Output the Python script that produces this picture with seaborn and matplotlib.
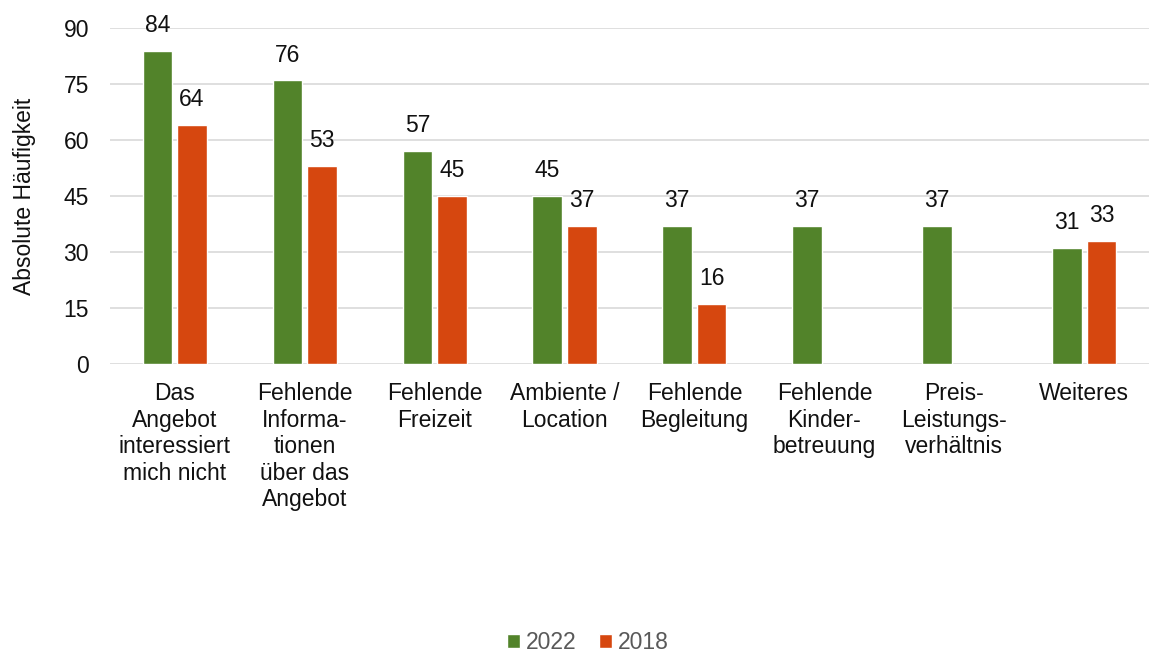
import numpy as np
import pandas as pd
import seaborn as sns
import matplotlib.pyplot as plt

# Daten
kategorien = [
    "Das\nAngebot\ninteressiert\nmich nicht",
    "Fehlende\nInforma-\ntionen\nüber das\nAngebot",
    "Fehlende\nFreizeit",
    "Ambiente /\nLocation",
    "Fehlende\nBegleitung",
    "Fehlende\nKinder-\nbetreuung",
    "Preis-\nLeistungs-\nverhältnis",
    "Weiteres",
]
werte_2022 = [84, 76, 57, 45, 37, 37, 37, 31]
werte_2018 = [64, 53, 45, 37, 16, np.nan, np.nan, 33]
jahre = ["2022", "2018"]
farben = ["#52832A", "#D6470F"]

sns.set_theme(style="white")
plt.rcParams['font.family'] = ['Liberation Sans', 'DejaVu Sans']

FS = 16.5

df = pd.DataFrame({"Kategorie": kategorien, "2022": werte_2022, "2018": werte_2018})
df_long = df.melt(id_vars="Kategorie", value_vars=jahre, var_name="Jahr", value_name="Anzahl")

fig = plt.figure(figsize=(11.55, 6.58), dpi=100)
ax = fig.add_axes([0.095, 0.447, 0.9, 0.51])

sns.barplot(data=df_long, x="Kategorie", y="Anzahl", hue="Jahr", hue_order=jahre,
            palette=farben, width=0.53, gap=0.14, ax=ax, legend=True, saturation=1)

# Werte über den Balken
for cont in ax.containers:
    labels = ["" if np.isnan(v) else f"{v:.0f}" for v in cont.datavalues]
    ax.bar_label(cont, labels=labels, padding=10, fontsize=FS, color="#111111")

ax.set_ylim(0, 90)
ax.set_yticks(range(0, 91, 15))
ax.set_xlim(-0.5, len(kategorien) - 0.5)
ax.yaxis.grid(True, color="#D9D9D9", linewidth=1.2)
ax.set_axisbelow(True)
for s in ax.spines.values():
    s.set_visible(False)
ax.tick_params(axis="both", length=0, labelsize=FS, colors="#111111")
ax.tick_params(axis="y", pad=15)
ax.tick_params(axis="x", pad=13)
for t in ax.get_xticklabels():
    t.set_linespacing(1.2)
ax.set_xlabel("")
ax.set_ylabel("Absolute Häufigkeit", fontsize=FS, color="#111111", labelpad=20)

leg = ax.legend(loc="center", bbox_to_anchor=(0.46, -0.83), ncol=2, frameon=False,
                fontsize=FS, handlelength=0.55, handleheight=0.55, handletextpad=0.25,
                columnspacing=1.0, labelcolor="#595959")

plt.savefig("out.png", dpi=100)
